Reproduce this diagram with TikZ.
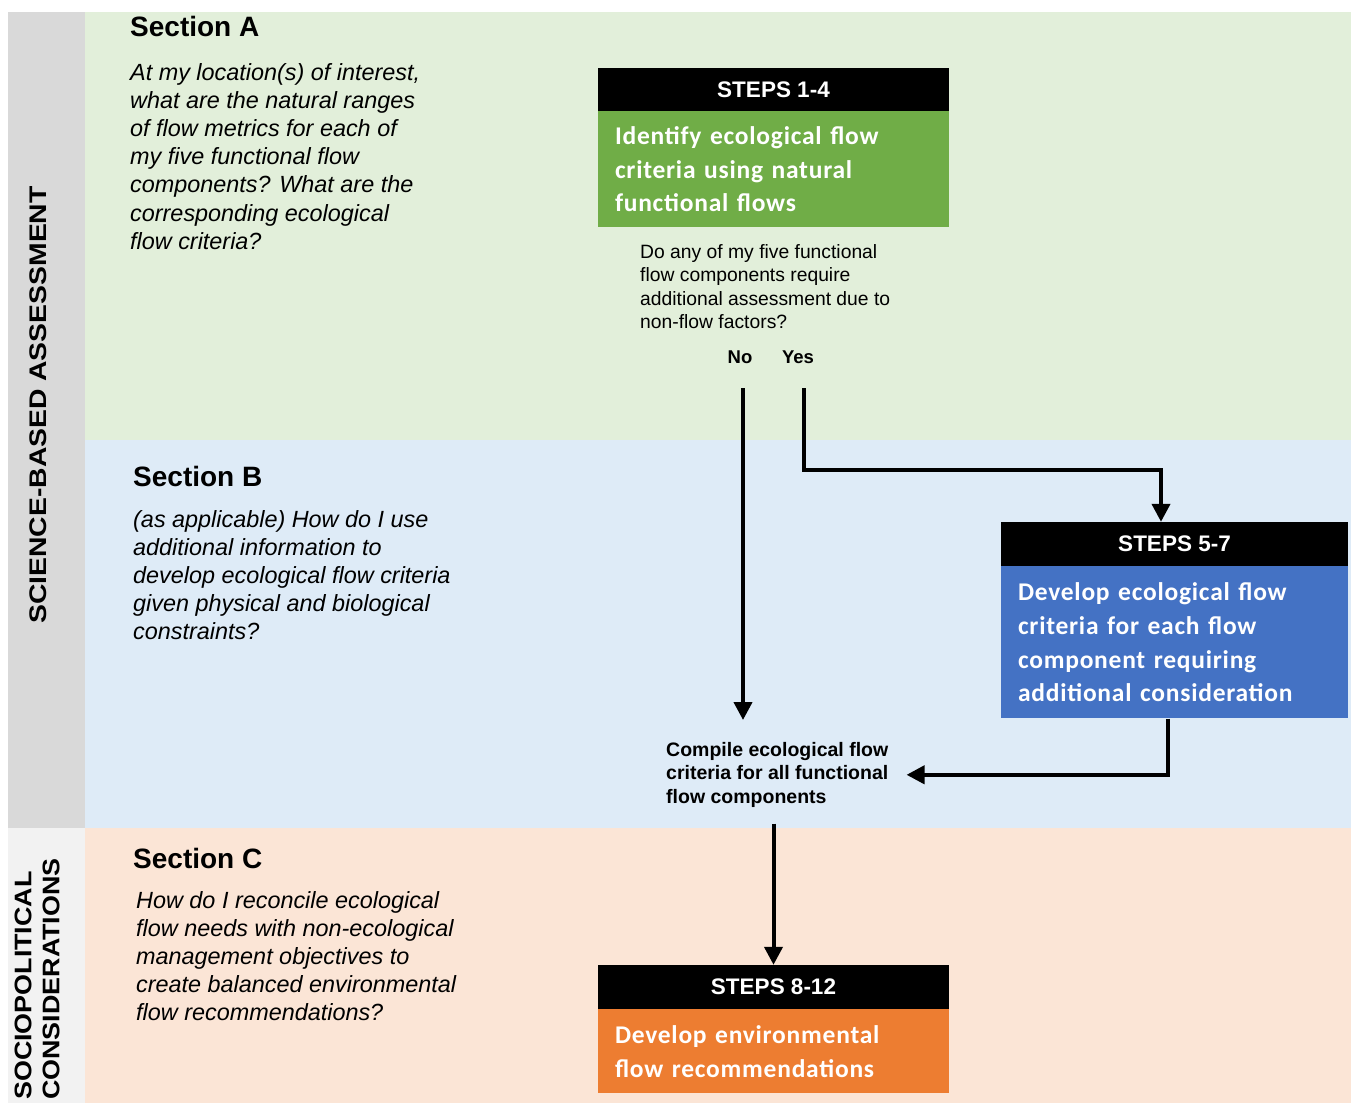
\documentclass[tikz,border=0pt]{standalone}
\usepackage{fontspec}
\setmainfont{Liberation Sans}
\newfontfamily\boxfont[LetterSpace=3]{Carlito}
\newfontfamily\sidefont[FakeStretch=1.18]{Liberation Sans}
\newfontfamily\sociofont[FakeStretch=1.12]{Liberation Sans}
\usetikzlibrary{arrows.meta}

\definecolor{bandA}{HTML}{E2EFDA}
\definecolor{bandB}{HTML}{DEEBF7}
\definecolor{bandC}{HTML}{FBE5D6}
\definecolor{sideA}{HTML}{D9D9D9}
\definecolor{sideC}{HTML}{F2F2F2}
\definecolor{stepgreen}{HTML}{70AD47}
\definecolor{stepblue}{HTML}{4472C4}
\definecolor{steporange}{HTML}{ED7D31}

\begin{document}
\begin{tikzpicture}[x=1pt, y=-1pt,
		hdr/.style={fill=black, text=white, minimum width=351pt, minimum height=43pt, inner sep=0pt, font=\fontsize{22.5}{27}\selectfont\bfseries},
		body/.style={anchor=north, text width=317pt, inner xsep=17pt, inner ysep=0pt, align=left, text=white, font=\boxfont\fontsize{25.5}{33.6}\selectfont\bfseries},
		sect/.style={anchor=north west, inner sep=0pt, align=left, font=\fontsize{28}{34}\selectfont\bfseries},
		ask/.style={anchor=north west, inner sep=0pt, align=left, font=\fontsize{23.4}{28.2}\selectfont\itshape},
		flow/.style={line width=4pt, -{Triangle[length=18pt,width=18pt]}}]
		\clip (0,0) rectangle (1351,1103);
		
		\def\xL{85}
		\def\yAB{440}
		\def\yBC{828}
		
		% bands
		\fill[bandA] (\xL,12) rectangle (1351,\yAB);
		\fill[bandB] (\xL,\yAB) rectangle (1351,\yBC);
		\fill[bandC] (\xL,\yBC) rectangle (1351,1103);
		\fill[sideA] (8,12) rectangle (\xL,\yBC);
		\fill[sideC] (8,\yBC) rectangle (\xL,1103);
		
		\node[rotate=90, inner sep=0pt, font=\sidefont\fontsize{24}{28}\selectfont\bfseries] (sci) at (38,405) {SCIENCE-BASED ASSESSMENT};
		\node[rotate=90, anchor=west, inner sep=0pt, align=left, font=\sociofont\fontsize{24}{28}\selectfont\bfseries] (socio) at (37,1100) {SOCIOPOLITICAL\\CONSIDERATIONS};
		
		\node[sect] (secA) at (130,16.5) {Section A};
		\node[ask] (askA) at (130,63) {At my location(s) of interest,\\what are the natural ranges\\of flow metrics for each of\\my five functional flow\\components? What are the\\corresponding ecological\\flow criteria?};
		\node[sect] (secB) at (133,466) {Section B};
		\node[ask] (askB) at (133,510) {(as applicable) How do I use\\additional information to\\develop ecological flow criteria\\given physical and biological\\constraints?};
		\node[sect] (secC) at (133,848) {Section C};
		\node[ask] (askC) at (136,891) {How do I reconcile ecological\\flow needs with non-ecological\\management objectives to\\create balanced environmental\\flow recommendations?};
		
		% steps boxes
		\node[hdr] (s14h) at (773.5,89.5) {STEPS 1-4};
		\node[body, fill=stepgreen, minimum height=116pt] (s14) at (s14h.south) {Identify ecological flow\\criteria using natural\\functional flows};
		\node[hdr, minimum width=347pt, minimum height=44pt] (s57h) at (1174.5,544) {STEPS 5-7};
		\node[body, fill=stepblue, text width=313pt, minimum height=152pt] (s57) at (s57h.south) {Develop ecological flow\\criteria for each flow\\component requiring\\additional consideration};
		\node[hdr, minimum height=44pt] (s812h) at (773.5,987) {STEPS 8-12};
		\node[body, fill=steporange, minimum height=84pt] (s812) at (s812h.south) {Develop environmental\\flow recommendations};
		
		\node[anchor=north west, inner sep=0pt, align=left, font=\fontsize{19.3}{23.6}\selectfont] (quest) at (640,244) {Do any of my five functional\\flow components require\\additional assessment due to\\non-flow factors?};
		\node[anchor=base, inner sep=0pt, font=\fontsize{18.5}{22}\selectfont\bfseries] (no) at (740,363.5) {No};
		\node[anchor=base, inner sep=0pt, font=\fontsize{18.5}{22}\selectfont\bfseries] (yes) at (798,363.5) {Yes};
		\node[anchor=north west, inner sep=0pt, align=left, font=\fontsize{19.5}{23.5}\selectfont\bfseries] (compile) at (666,742) {Compile ecological flow\\criteria for all functional\\flow components};
		
		% connectors
		\coordinate (noend) at (no.south |- compile.north);
		\coordinate (yesend) at ([xshift=-13.5pt]s57h.north);
		\coordinate (cdown) at ([yshift=-16pt]compile.south);
		\draw[flow] ([xshift=3pt,yshift=-24.5pt]no.south) -- ([xshift=3pt,yshift=22pt]noend);
		\draw[flow] ([xshift=6pt,yshift=-24.5pt]yes.south) |- ([yshift=52pt]yesend) -- (yesend);
		\draw[flow] ([xshift=-6.5pt]s57.south) |- ([xshift=18pt]compile.east);
		\draw[flow] (cdown -| s812h.north) -- (s812h.north);
	\end{tikzpicture}
\end{document}
